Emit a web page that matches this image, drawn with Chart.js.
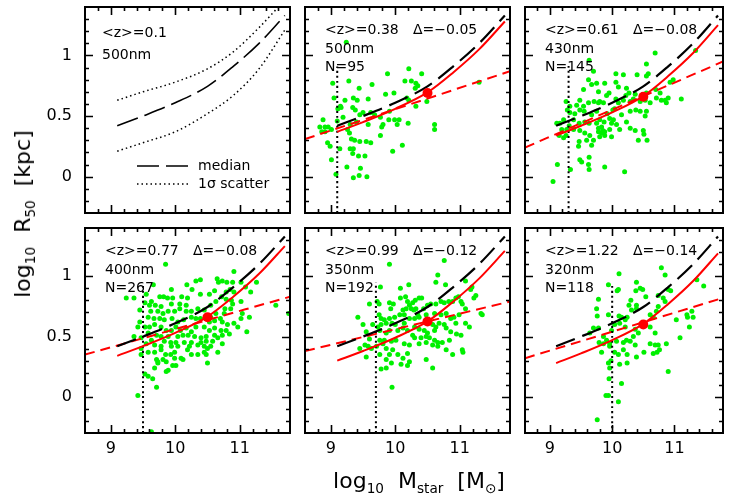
<!DOCTYPE html>
<html>
<head>
<meta charset="utf-8">
<script src="https://cdn.jsdelivr.net/npm/chart.js@4.4.1/dist/chart.umd.min.js"></script>
<style>
  html, body { margin: 0; padding: 0; background: #fff; }
  #fig { position: relative; width: 731px; height: 503px; overflow: hidden; font-family: 'DejaVu Sans', sans-serif; }
  #fig canvas { position: absolute; left: 0; top: 0; }
  .axis-title { position: absolute; white-space: nowrap; font-size: 22px; color: #000; line-height: 1; }
  .axis-title sub { font-size: 62%; vertical-align: -0.35em; line-height: 0; }
  #ytitle { left: 23px; top: 214px; transform: translate(-50%, -50%) rotate(-90deg); }
  #xtitle { left: 419px; top: 481px; transform: translate(-50%, -50%); }
</style>
</head>
<body>
<div id="fig">
  <canvas id="p1" width="731" height="503"></canvas>
  <canvas id="p2" width="731" height="503"></canvas>
  <canvas id="p3" width="731" height="503"></canvas>
  <canvas id="p4" width="731" height="503"></canvas>
  <canvas id="p5" width="731" height="503"></canvas>
  <canvas id="p6" width="731" height="503"></canvas>
  <div class="axis-title" id="ytitle">log<sub>10</sub>&nbsp; R<sub>50</sub>&nbsp; [kpc]</div>
  <div class="axis-title" id="xtitle">log<sub>10</sub>&nbsp; M<sub>star</sub>&nbsp; [M<sub>⊙</sub>]</div>
</div>
<script>
// axis ranges and tick labels
const massRange = [8.6, 11.78]
const sizeRange = [-0.3, 1.4]
const massTicks = [9, 10, 11]
const sizeTicks = [0, 0.5, 1]

// z=0.1 reference relation (median and 1 sigma scatter)
const massGrid = [9.1, 9.5, 10.0, 10.5, 10.9, 11.3, 11.7]
const median01 = [0.42, 0.50, 0.61, 0.745, 0.91, 1.10, 1.33]
const massGridHi = [9.1, 9.5, 10.0, 10.5, 10.9, 11.3, 11.6]
const scatterHi = [0.63, 0.70, 0.78, 0.89, 1.03, 1.23, 1.40]
const scatterLo = [0.21, 0.28, 0.37, 0.52, 0.67, 0.89, 1.21]

// shifted relation for each redshift bin
const fit038 = [0.37, 0.45, 0.56, 0.695, 0.86, 1.05, 1.28]
const fit061 = [0.34, 0.42, 0.53, 0.665, 0.83, 1.02, 1.25]
const fit077 = [0.34, 0.42, 0.53, 0.665, 0.83, 1.02, 1.25]
const fit099 = [0.30, 0.38, 0.49, 0.625, 0.79, 0.98, 1.21]
const fit122 = [0.28, 0.36, 0.47, 0.605, 0.77, 0.96, 1.19]

// straight-line fits (value at left and right edge)
const slopeEnds = [[0.31, 0.87], [0.24, 0.95], [0.35, 0.83], [0.38, 0.79], [0.32, 0.82]]
const pivotMass = 10.5
const pivotSize = [0.69, 0.66, 0.66, 0.625, 0.60]
const massLimit = [9.1, 9.3, 9.5, 9.7, 10.0]
const limitTop = [0.91, 0.92, 0.93, 0.945, 0.92]

const zMean = ['0.1', '0.38', '0.61', '0.77', '0.99', '1.22']
const bands = ['500nm', '500nm', '430nm', '400nm', '350nm', '320nm']
const deltas = ['', '−0.05', '−0.08', '−0.08', '−0.12', '−0.14']
const counts = ['', '95', '145', '267', '192', '118']

// galaxies [log M, log R50]
const gal038 = [[9.24,1.11],[9.03,0.77],[9.28,0.79],[9.05,0.65],[9.22,0.63],[9.44,0.73],[9.64,0.76],[9.88,0.85],[10.21,0.89],[10.15,0.79],[10.25,0.79],[10.32,0.77],[10.35,0.75],[10.41,0.85],[10.31,0.73],[9.15,0.58],[9.11,0.56],[9.35,0.65],[9.41,0.63],[9.58,0.64],[9.85,0.68],[9.98,0.69],[10.18,0.65],[10.21,0.63],[10.32,0.58],[10.49,0.62],[9.34,0.57],[9.38,0.55],[9.50,0.53],[9.45,0.51],[9.62,0.53],[9.91,0.54],[10.06,0.47],[9.99,0.47],[8.88,0.47],[8.83,0.41],[8.91,0.41],[8.96,0.41],[8.86,0.37],[8.91,0.37],[9.01,0.39],[9.26,0.39],[9.29,0.36],[9.30,0.43],[9.40,0.45],[9.58,0.43],[9.68,0.51],[9.77,0.49],[9.79,0.41],[9.81,0.43],[9.90,0.47],[10.03,0.43],[10.20,0.44],[10.61,0.43],[10.61,0.39],[9.32,0.31],[9.37,0.30],[9.45,0.29],[9.55,0.29],[9.62,0.28],[9.77,0.34],[8.95,0.28],[8.99,0.25],[9.14,0.23],[9.30,0.23],[9.35,0.23],[9.34,0.19],[9.43,0.17],[9.53,0.17],[9.96,0.21],[10.11,0.26],[9.01,0.14],[9.25,0.08],[9.46,0.07],[9.44,0.01],[9.35,-0.01],[9.56,0.00],[9.08,0.02],[11.30,0.78],[9.19,0.49],[9.10,0.46],[9.16,0.57]]

const gal061 = [[10.69,1.02],[9.63,0.96],[9.70,0.87],[9.62,0.80],[9.67,0.76],[9.54,0.72],[9.75,0.77],[9.88,0.77],[10.06,0.85],[10.18,0.84],[10.40,0.84],[10.55,0.93],[10.55,0.83],[10.58,0.85],[10.06,0.78],[10.10,0.74],[10.23,0.73],[10.27,0.69],[10.22,0.67],[10.37,0.68],[10.34,0.64],[9.95,0.69],[9.91,0.67],[9.78,0.70],[9.80,0.62],[9.86,0.61],[10.10,0.61],[10.45,0.62],[10.53,0.63],[10.29,0.62],[10.18,0.63],[10.06,0.64],[9.78,0.61],[9.71,0.62],[9.26,0.62],[9.48,0.63],[9.54,0.58],[9.62,0.61],[9.75,0.54],[9.55,0.54],[9.32,0.53],[9.28,0.55],[9.67,0.51],[9.92,0.52],[10.01,0.55],[10.04,0.56],[10.29,0.54],[10.45,0.54],[10.55,0.54],[10.53,0.50],[10.61,0.61],[10.71,0.65],[10.77,0.69],[10.79,0.63],[10.85,0.63],[10.87,0.61],[10.90,0.65],[11.11,0.64],[10.93,0.78],[10.98,0.80],[10.70,0.72],[10.55,0.69],[11.34,1.04],[10.38,0.55],[10.23,0.45],[10.15,0.51],[10.02,0.47],[9.87,0.45],[9.96,0.48],[9.80,0.47],[9.75,0.44],[9.63,0.44],[9.56,0.45],[9.47,0.44],[9.38,0.47],[9.22,0.47],[9.16,0.44],[9.11,0.44],[9.31,0.42],[9.27,0.39],[9.19,0.39],[9.15,0.34],[9.22,0.32],[9.26,0.34],[9.38,0.39],[9.48,0.38],[9.56,0.36],[9.64,0.34],[9.78,0.40],[9.83,0.41],[9.85,0.38],[9.88,0.34],[9.80,0.33],[9.70,0.30],[9.59,0.30],[9.47,0.29],[9.67,0.26],[9.46,0.25],[9.83,0.36],[9.99,0.44],[10.12,0.39],[10.29,0.40],[10.37,0.38],[10.50,0.38],[10.51,0.35],[10.56,0.30],[10.42,0.30],[9.99,0.33],[9.88,0.37],[9.78,0.37],[9.48,0.14],[9.51,0.12],[9.63,0.16],[9.62,0.10],[9.63,0.06],[9.88,0.08],[10.20,0.04],[9.12,0.10],[9.33,0.06],[9.05,-0.04],[9.40,0.52],[9.43,0.59],[9.32,0.58],[9.48,0.55],[10.07,0.43],[9.96,0.39]]

const gal077 = [[9.85,1.10],[9.66,0.93],[9.24,0.82],[9.36,0.82],[9.55,0.85],[9.76,0.83],[9.82,0.83],[9.88,0.82],[9.94,0.89],[10.10,0.83],[10.26,0.89],[10.32,0.96],[10.39,0.97],[10.18,0.93],[10.65,0.98],[10.67,0.95],[10.73,0.96],[10.80,0.95],[10.91,1.04],[10.89,0.95],[11.02,0.95],[11.26,0.95],[11.09,0.91],[11.17,0.87],[10.91,0.87],[10.85,0.89],[10.79,0.87],[10.61,0.88],[10.53,0.85],[10.39,0.85],[10.19,0.82],[9.96,0.82],[9.63,0.79],[9.53,0.78],[9.60,0.76],[9.69,0.76],[9.78,0.75],[9.94,0.77],[10.07,0.77],[10.17,0.76],[10.35,0.73],[10.45,0.72],[10.55,0.76],[10.63,0.79],[10.72,0.83],[10.79,0.81],[10.87,0.80],[10.89,0.77],[11.02,0.79],[11.04,0.69],[10.86,0.73],[10.77,0.73],[10.76,0.69],[10.70,0.65],[10.55,0.66],[10.63,0.69],[10.25,0.71],[10.17,0.71],[10.07,0.73],[9.99,0.71],[9.89,0.71],[9.81,0.69],[9.73,0.71],[9.62,0.71],[9.45,0.72],[9.58,0.66],[9.67,0.65],[9.76,0.65],[9.83,0.64],[9.95,0.65],[10.04,0.62],[10.13,0.64],[10.25,0.66],[10.32,0.65],[10.39,0.65],[10.53,0.62],[10.61,0.63],[10.73,0.62],[10.81,0.60],[10.91,0.61],[10.97,0.58],[11.02,0.65],[11.15,0.66],[11.11,0.54],[11.56,0.76],[11.76,0.69],[9.45,0.62],[9.53,0.58],[9.60,0.58],[9.68,0.60],[9.78,0.58],[9.86,0.55],[9.94,0.55],[10.01,0.58],[10.08,0.55],[10.17,0.57],[10.25,0.54],[10.32,0.58],[10.45,0.58],[10.53,0.55],[10.61,0.57],[10.71,0.55],[10.79,0.55],[10.84,0.52],[10.61,0.51],[10.48,0.50],[10.40,0.49],[10.30,0.50],[10.20,0.51],[10.12,0.51],[10.04,0.50],[9.89,0.50],[9.78,0.50],[9.71,0.51],[9.58,0.53],[9.42,0.58],[9.36,0.50],[9.47,0.49],[9.63,0.47],[9.83,0.46],[9.93,0.45],[10.01,0.45],[10.14,0.45],[10.25,0.45],[10.40,0.45],[10.48,0.46],[10.58,0.46],[10.66,0.49],[10.73,0.51],[10.73,0.44],[10.55,0.42],[10.45,0.42],[10.35,0.43],[10.22,0.42],[10.04,0.42],[9.94,0.42],[9.78,0.42],[9.68,0.43],[9.55,0.44],[9.47,0.40],[9.58,0.37],[9.68,0.37],[9.78,0.39],[9.99,0.37],[10.19,0.39],[10.45,0.37],[10.50,0.40],[10.66,0.37],[9.47,0.35],[9.71,0.31],[9.73,0.28],[9.81,0.31],[9.86,0.29],[9.99,0.32],[10.09,0.32],[10.01,0.26],[9.96,0.26],[9.86,0.21],[9.89,0.22],[10.12,0.31],[10.25,0.35],[10.35,0.35],[10.48,0.35],[9.73,0.29],[9.68,0.24],[9.53,0.19],[9.58,0.17],[9.65,0.15],[9.71,0.08],[10.50,0.28],[9.42,0.01],[9.63,-0.29],[9.85,0.35],[9.93,0.35]]

const gal099 = [[9.91,1.10],[10.76,1.13],[10.66,1.01],[9.77,0.91],[10.08,0.90],[10.21,0.93],[10.63,0.95],[10.78,0.93],[11.09,0.96],[11.19,0.91],[11.17,0.89],[9.60,0.77],[9.72,0.79],[9.75,0.77],[9.91,0.78],[9.93,0.73],[9.97,0.77],[10.08,0.82],[10.16,0.83],[10.19,0.79],[10.22,0.76],[10.27,0.78],[10.31,0.80],[10.37,0.82],[10.41,0.82],[10.25,0.73],[10.29,0.72],[10.32,0.73],[10.17,0.73],[10.12,0.72],[10.44,0.73],[10.50,0.76],[10.55,0.77],[10.63,0.77],[10.71,0.79],[10.76,0.78],[10.83,0.79],[10.89,0.79],[10.94,0.82],[10.98,0.83],[11.02,0.79],[11.04,0.77],[11.09,0.73],[11.22,0.82],[11.25,0.84],[11.33,0.69],[11.35,0.68],[9.42,0.66],[9.50,0.60],[9.75,0.68],[9.78,0.65],[9.83,0.64],[9.91,0.65],[9.99,0.66],[10.07,0.68],[10.14,0.68],[10.22,0.65],[10.30,0.65],[10.35,0.68],[10.37,0.66],[10.48,0.68],[10.61,0.69],[10.71,0.68],[10.79,0.69],[10.86,0.65],[10.91,0.66],[10.99,0.68],[11.09,0.61],[11.15,0.58],[10.94,0.61],[10.76,0.60],[10.68,0.61],[10.63,0.58],[10.58,0.60],[10.14,0.61],[10.00,0.60],[9.95,0.61],[9.86,0.61],[9.78,0.60],[9.73,0.58],[9.65,0.60],[9.55,0.54],[9.60,0.48],[9.76,0.55],[9.86,0.53],[9.91,0.55],[10.04,0.55],[10.12,0.57],[10.19,0.55],[10.30,0.58],[10.37,0.56],[10.45,0.55],[10.50,0.53],[10.61,0.55],[10.79,0.57],[10.86,0.54],[10.95,0.52],[11.02,0.51],[10.84,0.47],[10.73,0.45],[10.66,0.45],[10.61,0.47],[10.53,0.49],[10.48,0.50],[10.40,0.49],[10.30,0.49],[10.27,0.51],[10.01,0.47],[9.94,0.46],[9.83,0.47],[9.76,0.47],[9.53,0.43],[9.45,0.40],[9.58,0.42],[9.63,0.40],[9.71,0.42],[9.81,0.44],[9.86,0.40],[9.96,0.39],[10.14,0.44],[10.22,0.43],[10.37,0.44],[10.48,0.45],[10.58,0.43],[10.66,0.42],[10.79,0.39],[10.89,0.35],[11.04,0.39],[11.05,0.37],[9.76,0.35],[9.86,0.31],[9.91,0.35],[10.04,0.35],[10.12,0.32],[10.19,0.36],[10.22,0.29],[10.19,0.26],[10.09,0.27],[9.94,0.28],[9.86,0.24],[9.78,0.23],[10.48,0.31],[10.58,0.24],[9.95,0.08],[9.55,0.33]]

const gal122 = [[10.11,1.02],[10.79,1.07],[10.85,1.01],[9.94,0.93],[10.08,0.88],[10.10,0.89],[9.78,0.81],[9.75,0.73],[9.76,0.67],[9.94,0.68],[10.11,0.67],[10.15,0.66],[10.21,0.64],[10.24,0.66],[10.27,0.76],[10.30,0.80],[10.39,0.95],[10.45,0.90],[10.49,0.89],[10.38,0.88],[10.54,0.83],[10.74,0.84],[10.82,0.82],[10.90,0.89],[10.94,0.88],[10.85,0.79],[10.74,0.75],[10.71,0.71],[10.66,0.66],[10.61,0.68],[10.39,0.76],[10.39,0.73],[10.31,0.72],[10.12,0.61],[10.04,0.60],[9.99,0.55],[10.21,0.58],[10.37,0.56],[10.42,0.53],[10.61,0.58],[10.69,0.53],[9.78,0.57],[9.64,0.53],[9.86,0.50],[9.91,0.47],[9.79,0.45],[9.83,0.37],[9.96,0.44],[10.07,0.46],[10.18,0.45],[10.23,0.47],[10.29,0.46],[10.37,0.43],[10.18,0.39],[10.10,0.35],[10.04,0.37],[9.96,0.42],[9.98,0.30],[9.94,0.28],[9.96,0.24],[10.12,0.27],[10.24,0.35],[10.24,0.28],[10.39,0.33],[10.51,0.37],[10.61,0.44],[10.69,0.43],[10.74,0.43],[10.72,0.37],[10.66,0.36],[10.76,0.39],[10.87,0.44],[11.03,0.64],[11.20,0.68],[11.21,0.66],[11.28,0.71],[11.30,0.66],[11.24,0.58],[11.09,0.49],[11.36,0.97],[11.47,0.92],[10.90,0.21],[10.15,0.11],[9.95,0.15],[9.90,0.01],[9.94,0.01],[10.10,-0.04],[9.76,-0.19],[9.86,0.44],[10.34,0.50],[9.70,0.57]]

const galaxies = [gal038, gal061, gal077, gal099, gal122]
const fits = [fit038, fit061, fit077, fit099, fit122]

// panel frames in page pixels: left, top, right, bottom
const boxes = [
  [85, 7, 290, 213], [305, 7, 510, 213], [525, 7, 723, 213],
  [85, 228, 290, 433], [305, 228, 510, 433], [525, 228, 723, 433]
]

const toPts = (xs, ys) => xs.map((m, i) => ({ x: m, y: ys[i] }))

const framePlugin = {
  id: 'frame',
  afterDraw(chart, args, o) {
    const { ctx, chartArea: a, scales: { x, y } } = chart
    ctx.save()
    ctx.strokeStyle = '#000'
    ctx.fillStyle = '#000'
    ctx.setLineDash([])
    ctx.lineWidth = 1.6
    ctx.beginPath()
    for (let i = 44; i <= 58; i++) {
      const px = Math.round(x.getPixelForValue(i / 5)) + 0.5
      const len = i % 5 === 0 ? 8 : 4
      ctx.moveTo(px, a.bottom); ctx.lineTo(px, a.bottom - len)
      ctx.moveTo(px, a.top); ctx.lineTo(px, a.top + len)
    }
    for (let i = -2; i <= 13; i++) {
      const py = Math.round(y.getPixelForValue(i / 10)) + 0.5
      const len = i % 5 === 0 ? 8 : 4
      ctx.moveTo(a.left, py); ctx.lineTo(a.left + len, py)
      ctx.moveTo(a.right, py); ctx.lineTo(a.right - len, py)
    }
    ctx.stroke()
    ctx.lineWidth = 2
    ctx.strokeRect(a.left, a.top, a.right - a.left, a.bottom - a.top)

    ctx.font = '16px "DejaVu Sans"'
    ctx.textBaseline = 'middle'
    if (o.xLabels) {
      ctx.textAlign = 'center'
      massTicks.forEach(v => ctx.fillText(String(v), x.getPixelForValue(v), a.bottom + 16))
    }
    if (o.yLabels) {
      ctx.textAlign = 'right'
      sizeTicks.forEach(v => ctx.fillText(String(v), a.left - 13, y.getPixelForValue(v)))
    }

    ctx.font = '14px "DejaVu Sans"'
    ctx.textAlign = 'left'
    o.lines.forEach((t, k) => ctx.fillText(t, a.left + o.dx, a.top + o.dy[k]))
    if (o.delta) ctx.fillText('Δ=' + o.delta, a.left + 108, a.top + o.dy[0])

    if (o.legend) {
      const lx = a.left + 52, tx = a.left + 113
      ctx.lineWidth = 1.5
      ctx.setLineDash([22, 7])
      ctx.beginPath(); ctx.moveTo(lx, a.top + 159); ctx.lineTo(lx + 53, a.top + 159); ctx.stroke()
      ctx.lineWidth = 1.5
      ctx.setLineDash([1.5, 3])
      ctx.beginPath(); ctx.moveTo(lx, a.top + 177); ctx.lineTo(lx + 53, a.top + 177); ctx.stroke()
      ctx.fillText('median', tx, a.top + 159)
      ctx.fillText('1σ scatter', tx, a.top + 177)
    }
    ctx.restore()
  }
}

function makeChart(idx, datasets, frame) {
  const [l, t, r, b] = boxes[idx]
  return new Chart(document.getElementById('p' + (idx + 1)), {
    type: 'scatter',
    data: { datasets },
    plugins: [framePlugin],
    options: {
      responsive: false,
      animation: false,
      devicePixelRatio: 1,
      events: [],
      layout: { padding: { left: l, top: t, right: 731 - r, bottom: 503 - b } },
      plugins: { legend: { display: false }, tooltip: { enabled: false }, frame },
      scales: {
        x: { type: 'linear', min: massRange[0], max: massRange[1], display: false },
        y: { type: 'linear', min: sizeRange[0], max: sizeRange[1], display: false }
      }
    }
  })
}

const lineStyle = (color, width, dash, order) => ({
  showLine: true, pointRadius: 0, borderColor: color, borderWidth: width,
  borderDash: dash, cubicInterpolationMode: 'monotone', order
})

// reference panel
makeChart(0, [
  { data: toPts(massGrid, median01), ...lineStyle('#000', 1.6, [22, 7], 1) },
  { data: toPts(massGridHi, scatterHi), ...lineStyle('#000', 1.5, [1.5, 3], 2) },
  { data: toPts(massGrid, scatterLo), ...lineStyle('#000', 1.5, [1.5, 3], 2) }
], { yLabels: true, xLabels: false, lines: ['<z>=' + zMean[0], bands[0]], dx: 17, dy: [26, 48], legend: true })

// redshift bins
for (let k = 0; k < 5; k++) {
  const idx = k + 1
  makeChart(idx, [
    { data: [{ x: pivotMass, y: pivotSize[k] }], pointRadius: 5, backgroundColor: '#ff0000', borderWidth: 0, order: 1 },
    { data: toPts(massGrid, fits[k]), ...lineStyle('#ff0000', 2, [], 2) },
    { data: toPts(massGrid, median01), ...lineStyle('#000', 2.2, [20, 8], 3) },
    { data: toPts(massRange, slopeEnds[k]), ...lineStyle('#ff0000', 2, [10, 6], 4) },
    { data: [{ x: massLimit[k], y: sizeRange[0] }, { x: massLimit[k], y: limitTop[k] }], ...lineStyle('#000', 2, [2, 3], 5) },
    { data: galaxies[k].map(([m, r]) => ({ x: m, y: r })), pointRadius: 2.5, backgroundColor: '#00f000', borderWidth: 0, order: 6 }
  ], {
    yLabels: idx === 3, xLabels: idx >= 3,
    lines: ['<z>=' + zMean[idx], bands[idx], 'N=' + counts[idx]],
    delta: deltas[idx], dx: 20, dy: [23, 42, 60], legend: false
  })
}
</script>
</body>
</html>
